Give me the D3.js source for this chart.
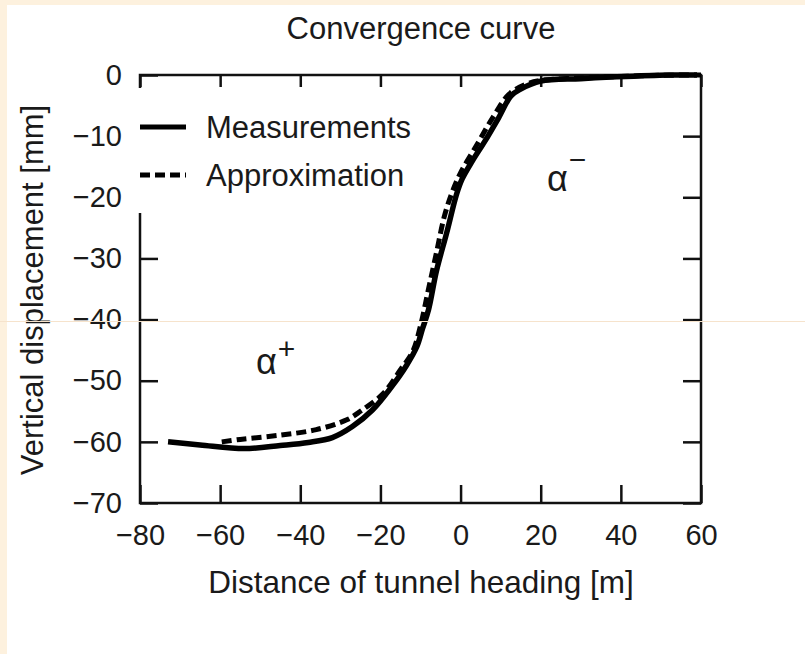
<!DOCTYPE html>
<html>
<head>
<meta charset="utf-8">
<script src="https://cdn.jsdelivr.net/npm/d3@7"></script>
<style>
  body { margin: 0; background: #fdf1de; }
  svg { display: block; font-family: 'Liberation Sans', Arial, sans-serif; }
</style>
</head>
<body>
<div class="container"></div>
<script>
// measured curve [distance m, displacement mm]
const measX = [-73, -65, -54, -45, -38, -32, -27, -22, -17, -13.5, -10.9, -9.5, -8, -6, -3.5, -1, 0.4, 3, 6, 9.5, 12.6, 15, 20, 30, 39, 52, 59]
const measY = [-60, -60.5, -61.1, -60.6, -60.1, -59.3, -57.5, -54.8, -50.8, -47.5, -44.4, -41.5, -38.4, -32, -25.9, -19.5, -17, -14, -10.9, -7, -3.4, -2.3, -1, -0.6, -0.3, 0, 0]

// approximation curve
const apprX = [-59.6, -55, -45, -36, -28.4, -25, -19.3, -15, -12, -10, -8, -6, -4, -2, 0, 4, 8, 12, 16, 20, 30, 40, 50, 60]
const apprY = [-60, -59.6, -58.9, -58, -56.4, -55, -52.1, -48.2, -45.3, -41, -35, -29, -23, -19, -16, -11.5, -7, -3.2, -1.6, -0.9, -0.5, -0.25, -0.05, 0]

const xTicks = [-80, -60, -40, -20, 0, 20, 40, 60]
const yTicks = [0, -10, -20, -30, -40, -50, -60, -70]

const legendNames = ['Measurements', 'Approximation']

const w = 805
const h = 654
const mLeft = 140, mRight = 701, mTop = 75, mBottom = 503

const svg = d3.select('.container')
  .append('svg')
  .attr('width', w)
  .attr('height', h)

// white panel on beige page
svg.append('rect')
  .attr('x', 7).attr('y', 5)
  .attr('width', w - 7).attr('height', h - 5)
  .attr('fill', '#ffffff')

const xScale = d3.scaleLinear().domain([-80, 60]).range([mLeft, mRight])
const yScale = d3.scaleLinear().domain([-70, 0]).range([mBottom, mTop])

const fmt = d => d < 0 ? '\u2212' + Math.abs(d) : '' + d

// ticks (inward) on all four sides
const tickLen = 18
svg.append('g')
  .attr('transform', `translate(0, ${mBottom})`)
  .call(d3.axisBottom(xScale).tickValues(xTicks).tickSize(-tickLen).tickFormat(fmt))
  .call(g => g.select('.domain').remove())
  .call(g => g.selectAll('line').attr('stroke-width', 2.5).attr('stroke', '#111'))
  .call(g => g.selectAll('text').attr('font-size', 29).attr('fill', '#1a1a1a')
    .attr('dy', '0.71em').attr('y', 21))

svg.append('g')
  .attr('transform', `translate(0, ${mTop})`)
  .call(d3.axisTop(xScale).tickValues(xTicks).tickSize(-12).tickFormat(''))
  .call(g => g.select('.domain').remove())
  .call(g => g.selectAll('line').attr('stroke-width', 2.5).attr('stroke', '#111'))

svg.append('g')
  .attr('transform', `translate(${mLeft}, 0)`)
  .call(d3.axisLeft(yScale).tickValues(yTicks).tickSize(-tickLen).tickFormat(fmt))
  .call(g => g.select('.domain').remove())
  .call(g => g.selectAll('line').attr('stroke-width', 2.5).attr('stroke', '#111'))
  .call(g => g.selectAll('text').attr('font-size', 29).attr('fill', '#1a1a1a').attr('x', -18))

svg.append('g')
  .attr('transform', `translate(${mRight}, 0)`)
  .call(d3.axisRight(yScale).tickValues(yTicks).tickSize(-tickLen).tickFormat(''))
  .call(g => g.select('.domain').remove())
  .call(g => g.selectAll('line').attr('stroke-width', 2.5).attr('stroke', '#111'))

// frame
svg.append('rect')
  .attr('x', mLeft).attr('y', mTop)
  .attr('width', mRight - mLeft).attr('height', mBottom - mTop)
  .attr('fill', 'none')
  .attr('stroke', '#111')
  .attr('stroke-width', 2.5)

// legend box hides part of the left frame
svg.append('rect')
  .attr('x', 136).attr('y', 88)
  .attr('width', 280).attr('height', 125)
  .attr('fill', '#ffffff')

const line = d3.line()
  .x(d => xScale(d[0]))
  .y(d => yScale(d[1]))
  .curve(d3.curveCatmullRom.alpha(0.5))

svg.append('path')
  .datum(apprX.map((x, i) => [x, apprY[i]]))
  .attr('d', line)
  .attr('fill', 'none')
  .attr('stroke', '#000')
  .attr('stroke-width', 5)
  .attr('stroke-dasharray', '10,5')

svg.append('path')
  .datum(measX.map((x, i) => [x, measY[i]]))
  .attr('d', line)
  .attr('fill', 'none')
  .attr('stroke', '#000')
  .attr('stroke-width', 5.5)
  .attr('stroke-linejoin', 'round')

// legend
const legend = svg.append('g')
legendNames.forEach((name, i) => {
  const y = 127 + i * 48
  legend.append('line')
    .attr('x1', 140).attr('x2', 186)
    .attr('y1', y).attr('y2', y)
    .attr('stroke', '#000')
    .attr('stroke-width', 5)
    .attr('stroke-dasharray', i === 1 ? '10,5' : null)
  legend.append('text')
    .text(name)
    .attr('x', 206).attr('y', y + 11)
    .attr('font-size', 31)
    .attr('fill', '#1a1a1a')
})

// region labels
const alpha = (x, y, sup, supDy) => {
  const t = svg.append('text')
    .attr('x', x).attr('y', y)
    .attr('font-size', 36)
    .attr('fill', '#1a1a1a')
  t.append('tspan').text('\u03b1')
  t.append('tspan').text(sup).attr('dx', 1).attr('dy', supDy).attr('font-size', 30)
}
alpha(256, 374, '+', -15)
alpha(547, 191, '\u2212', -21)

svg.append('text')
  .text('Convergence curve')
  .attr('x', 421).attr('y', 39)
  .attr('text-anchor', 'middle')
  .attr('font-size', 31)
  .attr('fill', '#1a1a1a')

svg.append('text')
  .text('Distance of tunnel heading [m]')
  .attr('x', 421).attr('y', 593)
  .attr('text-anchor', 'middle')
  .attr('font-size', 31.5)
  .attr('fill', '#1a1a1a')

svg.append('text')
  .text('Vertical displacement [mm]')
  .attr('transform', 'translate(43, 290) rotate(-90)')
  .attr('text-anchor', 'middle')
  .attr('font-size', 31)
  .attr('fill', '#1a1a1a')

// faint scan line across the picture
svg.append('line')
  .attr('x1', 0).attr('x2', w)
  .attr('y1', 321.5).attr('y2', 321.5)
  .attr('stroke', '#f6e3cc')
  .attr('stroke-width', 1)
</script>
</body>
</html>
